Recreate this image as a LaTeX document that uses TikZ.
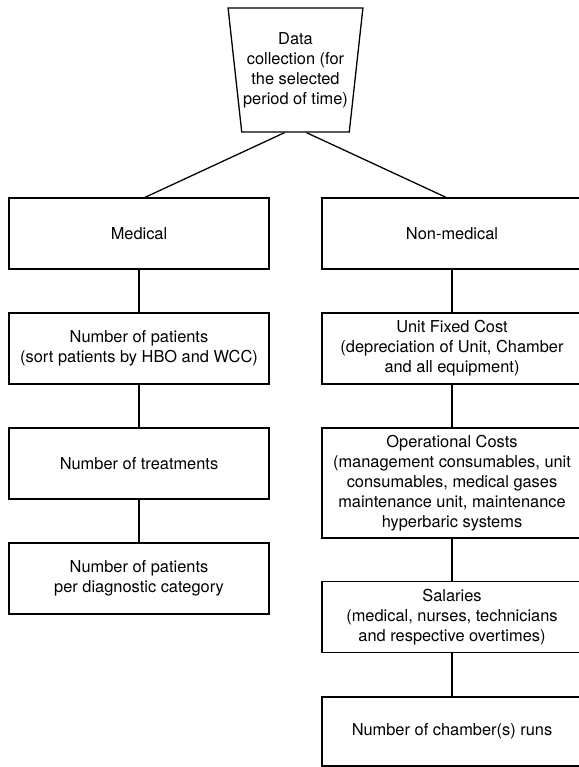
\documentclass[tikz,border=0pt]{standalone}
\usepackage{fontspec}
\setmainfont{TeX Gyre Heros}
\usetikzlibrary{shapes.geometric}

\tikzset{box/.style={draw,minimum width=130pt,minimum height=35.5pt,inner sep=0pt,align=center,font=\fontsize{8.2}{10}\selectfont},
  rbox/.style={box,minimum width=140pt}}

\begin{document}
\begin{tikzpicture}[x=0.5pt,y=-0.5pt,line width=0.65pt]
      \useasboundingbox (0,0) rectangle (579,767);
      \clip (0,0) rectangle (579,767);
      \node[trapezium,draw,trapezium angle=80,shape border rotate=180,trapezium stretches=true,minimum width=67.5pt,minimum height=62pt,inner sep=0pt,align=center,font=\fontsize{8.2}{10}\selectfont] (data) at (295.5,70) {Data\\collection (for\\the selected\\period of time)};
      \node[box] (med) at (139,233.5) {Medical};
      \node[box] (pat) at (139,348.5) {Number of patients\\(sort patients by HBO and WCC)};
      \node[box] (treat) at (139,463.5) {Number of treatments};
      \node[box] (diag) at (139,578.5) {Number of patients\\per diagnostic category};
      % right column runs past the page edge
      \node[rbox] (nonmed) at (462,233.5) {\hspace{-10pt}Non-medical};
      \node[rbox] (fixed) at (462,348.5) {\hspace{-10pt}\begin{tabular}{@{}c@{}}Unit Fixed Cost\\(depreciation of Unit, Chamber\\and all equipment)\end{tabular}};
      \node[rbox,minimum height=55pt] (oper) at (462,483) {\hspace{-10pt}\begin{tabular}{@{}c@{}}Operational Costs\\(management consumables, unit\\consumables, medical gases\\maintenance unit, maintenance\\hyperbaric systems\end{tabular}};
      \node[rbox] (sal) at (462,617) {\hspace{-10pt}\begin{tabular}{@{}c@{}}Salaries\\(medical, nurses, technicians\\and respective overtimes)\end{tabular}};
      \node[rbox,minimum height=34.5pt] (runs) at (462,731.5) {\hspace{-10pt}Number of chamber(s) runs};
      \draw ([xshift=-5.5pt]data.south) -- ([xshift=3pt]med.north);
      \draw ([xshift=5.5pt]data.south) -- ([xshift=-8pt]nonmed.north);
      \draw (med) -- (pat) -- (treat) -- (diag);
      \foreach \a/\b in {nonmed/fixed,fixed/oper,oper/sal,sal/runs}
        \draw ([xshift=-5pt]\a.south) -- ([xshift=-5pt]\b.north);
   \end{tikzpicture}
\end{document}
